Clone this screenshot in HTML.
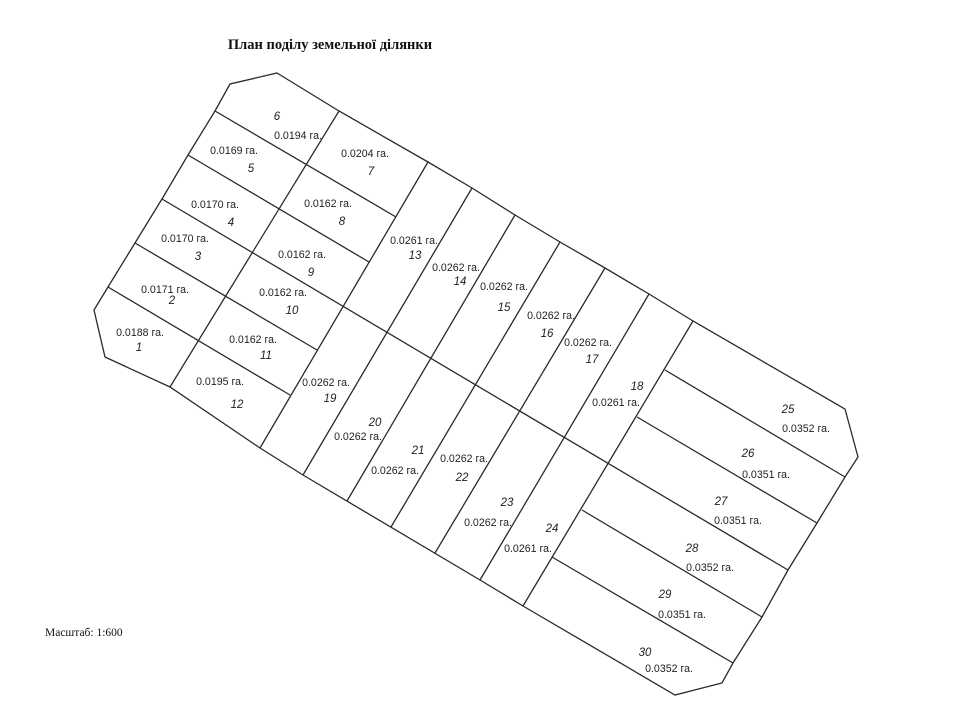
<!DOCTYPE html>
<html><head><meta charset="utf-8"><style>
html,body{margin:0;padding:0;background:#fff;}
svg{display:block;}
.t{font-family:"Liberation Sans","DejaVu Sans",sans-serif;font-size:10.6px;fill:#222;text-anchor:middle;}
.n{font-family:"Liberation Sans","DejaVu Sans",sans-serif;font-size:11.5px;font-style:italic;fill:#222;text-anchor:middle;}
</style></head><body>
<svg width="960" height="720" viewBox="0 0 960 720" xmlns="http://www.w3.org/2000/svg">
<rect width="960" height="720" fill="#fff"/>
<text x="330" y="49" font-family="Liberation Serif,serif" font-weight="bold" font-size="14.5" text-anchor="middle" fill="#111">План поділу земельної ділянки</text>
<text x="45" y="636" font-family="Liberation Serif,serif" font-size="11.5" fill="#111">Масштаб: 1:600</text>
<g stroke="#2a2a2a" stroke-width="1.3" fill="none">
<polygon points="277,73 339,111 428,162 472,188 515,215 560,242 605,268 649,294 693,321 845,409 858,457 845,477 817,523 788,570 762,617 733,663 722,683 675,695 523,606 480,580 303,475 260,448 170,387 105,357 94,310 108,287 135,243 162,199 188,155 215,111 230,84"/>
<line x1="215" y1="111" x2="396" y2="217"/>
<line x1="188" y1="155" x2="369" y2="262"/>
<line x1="162" y1="199" x2="788" y2="570"/>
<line x1="135" y1="243" x2="317" y2="350"/>
<line x1="108" y1="287" x2="290" y2="395"/>
<line x1="339" y1="111" x2="170" y2="387"/>
<line x1="428" y1="162" x2="260" y2="448"/>
<line x1="472" y1="188" x2="303" y2="475"/>
<line x1="515" y1="215" x2="347" y2="501"/>
<line x1="560" y1="242" x2="391" y2="527"/>
<line x1="605" y1="268" x2="435" y2="553"/>
<line x1="649" y1="294" x2="480" y2="580"/>
<line x1="693" y1="321" x2="523" y2="606"/>
<line x1="665" y1="370" x2="845" y2="477"/>
<line x1="637" y1="417" x2="817" y2="523"/>
<line x1="582" y1="510" x2="762" y2="617"/>
<line x1="552" y1="557" x2="733" y2="663"/>
</g>
<g>
<text class="n" x="277" y="120">6</text><text class="t" x="298" y="139">0.0194 га.</text>
<text class="t" x="234" y="154">0.0169 га.</text><text class="n" x="251" y="172">5</text>
<text class="t" x="365" y="157">0.0204 га.</text><text class="n" x="371" y="175">7</text>
<text class="t" x="215" y="208">0.0170 га.</text><text class="n" x="231" y="226">4</text>
<text class="t" x="328" y="207">0.0162 га.</text><text class="n" x="342" y="225">8</text>
<text class="t" x="185" y="242">0.0170 га.</text><text class="n" x="198" y="260">3</text>
<text class="t" x="302" y="258">0.0162 га.</text><text class="n" x="311" y="276">9</text>
<text class="t" x="165" y="293">0.0171 га.</text><text class="n" x="172" y="304">2</text>
<text class="t" x="283" y="296">0.0162 га.</text><text class="n" x="292" y="314">10</text>
<text class="t" x="140" y="336">0.0188 га.</text><text class="n" x="139" y="351">1</text>
<text class="t" x="253" y="343">0.0162 га.</text><text class="n" x="266" y="359">11</text>
<text class="t" x="220" y="385">0.0195 га.</text><text class="n" x="237" y="408">12</text>
<text class="t" x="414" y="244">0.0261 га.</text><text class="n" x="415" y="259">13</text>
<text class="t" x="456" y="271" fill="#555">0.0262 га.</text><text class="n" x="460" y="285">14</text>
<text class="t" x="504" y="290">0.0262 га.</text><text class="n" x="504" y="311">15</text>
<text class="t" x="551" y="319">0.0262 га.</text><text class="n" x="547" y="337">16</text>
<text class="t" x="588" y="346">0.0262 га.</text><text class="n" x="592" y="363">17</text>
<text class="n" x="637" y="390">18</text><text class="t" x="616" y="406">0.0261 га.</text>
<text class="t" x="326" y="386">0.0262 га.</text><text class="n" x="330" y="402">19</text>
<text class="n" x="375" y="426">20</text><text class="t" x="358" y="440">0.0262 га.</text>
<text class="n" x="418" y="454">21</text><text class="t" x="395" y="474">0.0262 га.</text>
<text class="t" x="464" y="462">0.0262 га.</text><text class="n" x="462" y="481">22</text>
<text class="n" x="507" y="506">23</text><text class="t" x="488" y="526">0.0262 га.</text>
<text class="n" x="552" y="532">24</text><text class="t" x="528" y="552">0.0261 га.</text>
<text class="n" x="788" y="413">25</text><text class="t" x="806" y="432">0.0352 га.</text>
<text class="n" x="748" y="457">26</text><text class="t" x="766" y="478">0.0351 га.</text>
<text class="n" x="721" y="505">27</text><text class="t" x="738" y="524">0.0351 га.</text>
<text class="n" x="692" y="552">28</text><text class="t" x="710" y="571">0.0352 га.</text>
<text class="n" x="665" y="598">29</text><text class="t" x="682" y="618">0.0351 га.</text>
<text class="n" x="645" y="656">30</text><text class="t" x="669" y="672">0.0352 га.</text>
</g>
</svg>
</body></html>
